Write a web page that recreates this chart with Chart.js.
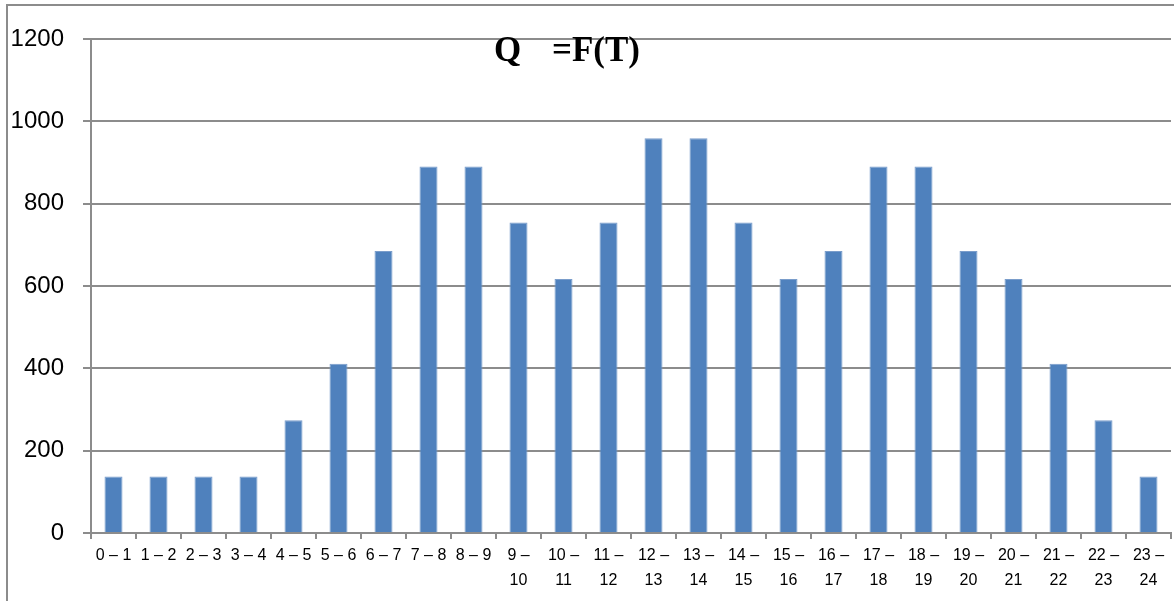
<!DOCTYPE html>
<html>
<head>
<meta charset="utf-8">
<script src="https://cdn.jsdelivr.net/npm/chart.js@4.4.1/dist/chart.umd.min.js"></script>
<style>
  html, body { margin: 0; padding: 0; background: #ffffff; overflow: hidden; }
  #wrap { position: relative; width: 1174px; height: 601px; }
  #frame {
    position: absolute; left: 6px; top: 4px; width: 1300px; height: 700px;
    border-left: 2px solid #8c8c8c; border-top: 2px solid #8c8c8c;
    box-sizing: border-box;
  }
  canvas { position: absolute; left: 0; top: 0; }
</style>
</head>
<body>
<div id="wrap">
  <div id="frame"></div>
  <canvas id="chart" width="1174" height="601"></canvas>
</div>
<script>
// Hourly intervals of the day
const hourLabels = [
  '0 – 1', '1 – 2', '2 – 3', '3 – 4', '4 – 5', '5 – 6', '6 – 7', '7 – 8', '8 – 9',
  ['9 –', '10'], ['10 –', '11'], ['11 –', '12'], ['12 –', '13'], ['13 –', '14'],
  ['14 –', '15'], ['15 –', '16'], ['16 –', '17'], ['17 –', '18'], ['18 –', '19'],
  ['19 –', '20'], ['20 –', '21'], ['21 –', '22'], ['22 –', '23'], ['23 –', '24']
];

// Flow Q for each hour
const flowValues = [
  137, 137, 137, 137, 274, 411, 685, 890, 890, 754, 617, 754,
  959, 959, 754, 617, 685, 890, 890, 685, 617, 411, 274, 137
];

const yTicks = [0, 200, 400, 600, 800, 1000, 1200];

const gridGrey = '#8c8c8c';

// Chart heading "Q   =F(T)" drawn inside the plot area
const headingPlugin = {
  id: 'heading',
  afterDraw(chart) {
    const { ctx, chartArea } = chart;
    ctx.save();
    ctx.fillStyle = '#000000';
    ctx.font = 'bold 35px "Liberation Serif", "Times New Roman", serif';
    ctx.textBaseline = 'alphabetic';
    ctx.textAlign = 'left';
    const base = chartArea.top + 22;
    ctx.fillText('Q', chartArea.left + 403, base);
    ctx.fillText('=F(T)', chartArea.left + 461, base);
    ctx.restore();
  }
};

new Chart(document.getElementById('chart'), {
  type: 'bar',
  data: {
    labels: hourLabels,
    datasets: [{
      data: flowValues,
      backgroundColor: '#4F81BD',
      borderColor: '#7A9DCB',
      borderWidth: 1,
      barPercentage: 0.4,
      categoryPercentage: 1.0
    }]
  },
  options: {
    responsive: false,
    animation: false,
    events: [],
    layout: { padding: { left: 0, top: 39, right: 3, bottom: 0 } },
    plugins: {
      legend: { display: false },
      title: { display: false },
      tooltip: { enabled: false }
    },
    scales: {
      x: {
        offset: true,
        grid: {
          offset: true,
          drawOnChartArea: false,
          drawTicks: true,
          tickLength: 6,
          color: gridGrey,
          lineWidth: 2
        },
        border: { display: true, color: gridGrey, width: 2 },
        ticks: {
          autoSkip: false,
          maxRotation: 0,
          minRotation: 0,
          padding: 4,
          color: '#000000',
          font: { family: '"Liberation Sans", Arial, sans-serif', size: 16, lineHeight: 1.55 }
        },
        afterFit(scale) { scale.height = 68; }
      },
      y: {
        min: 0,
        max: 1200,
        afterBuildTicks(scale) { scale.ticks = yTicks.map(v => ({ value: v })); },
        grid: {
          color: gridGrey,
          lineWidth: 2,
          drawTicks: true,
          tickLength: 8
        },
        border: { display: true, color: gridGrey, width: 2 },
        ticks: {
          padding: 19,
          color: '#000000',
          font: { family: '"Liberation Sans", Arial, sans-serif', size: 24 },
          callback: (value) => String(value)
        },
        afterFit(scale) { scale.width = 91; }
      }
    }
  },
  plugins: [headingPlugin]
});
</script>
</body>
</html>
